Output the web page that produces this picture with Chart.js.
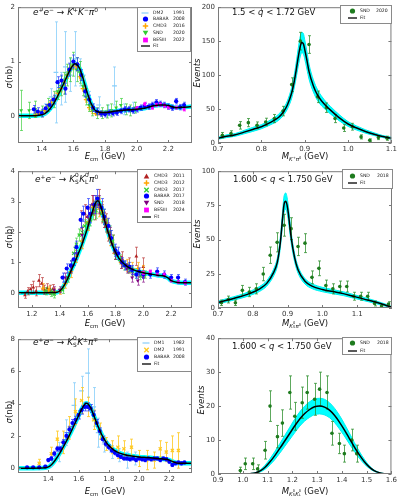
<!DOCTYPE html>
<html><head><meta charset="utf-8">
<script src="https://cdn.jsdelivr.net/npm/chart.js@4.4.0/dist/chart.umd.min.js"></script>
<style>
body{margin:0;background:#fff;width:399px;height:498px;position:relative;overflow:hidden;font-family:"DejaVu Sans",sans-serif;color:#111;}
canvas{position:absolute;}
.t{position:absolute;white-space:nowrap;font-size:8.5px;line-height:10px;}
.tt{font-size:9px;}
.c{transform:translate(-50%,-50%);}
.r{transform:translate(-50%,-50%) rotate(-90deg);}
sup,sub{font-size:65%;line-height:0;}
sup{vertical-align:0.55em;} sub{vertical-align:-0.3em;}
.sb{display:inline-block;position:relative;width:0.45em;height:1em;}
.sb .u{position:absolute;left:0;top:0;font-size:65%;line-height:1;}
.sb .d{position:absolute;left:0;top:1.15em;font-size:65%;line-height:1;}
.lg{position:absolute;border:1px solid #8a8a8a;background:#fff;box-sizing:border-box;}
.lt{position:absolute;font-size:4.6px;line-height:6px;white-space:nowrap;color:#222;}
</style></head><body>
<canvas id="c1" width="200" height="160" style="left:0;top:0"></canvas>
<canvas id="c2" width="199" height="160" style="left:200px;top:0"></canvas>
<canvas id="c3" width="200" height="160" style="left:0;top:164px"></canvas>
<canvas id="c4" width="199" height="160" style="left:200px;top:164px"></canvas>
<canvas id="c5" width="200" height="156" style="left:0;top:332px"></canvas>
<canvas id="c6" width="199" height="157" style="left:200px;top:331px"></canvas>

<div class="t tt" style="left:33px;top:7px"><i>e</i><sup>+</sup><i>e</i><sup>−</sup> → <i>K</i><sup>+</sup><i>K</i><sup>−</sup><i>π</i><sup>0</sup></div>
<div class="t" style="left:232px;top:7px">1.5 &lt; <i>q</i> &lt; 1.72 GeV</div>
<div class="t tt" style="left:35px;top:173px"><i>e</i><sup>+</sup><i>e</i><sup>−</sup> → <i>K</i><span class="sb"><span class="u">0</span><span class="d">S</span></span><i>K</i><span class="sb"><span class="u">0</span><span class="d">L</span></span><i>π</i><sup>0</sup></div>
<div class="t" style="left:233px;top:174px">1.600 &lt; <i>q</i> &lt; 1.750 GeV</div>
<div class="t tt" style="left:33px;top:336px"><i>e</i><sup>+</sup><i>e</i><sup>−</sup> → <i>K</i><span class="sb"><span class="u">0</span><span class="d">S</span></span><i>K</i><sup>±</sup><i>π</i><sup>∓</sup></div>
<div class="t" style="left:232px;top:341px">1.600 &lt; <i>q</i> &lt; 1.750 GeV</div>

<div class="t c" style="left:105px;top:156px"><i>E</i><sub>cm</sub> (GeV)</div>
<div class="t c" style="left:105px;top:323px"><i>E</i><sub>cm</sub> (GeV)</div>
<div class="t c" style="left:105px;top:491px"><i>E</i><sub>cm</sub> (GeV)</div>
<div class="t c" style="left:305px;top:156px"><i>M</i><sub><i>K</i><sup>+</sup><i>π</i><sup>0</sup></sub> (GeV)</div>
<div class="t c" style="left:305px;top:323px"><i>M</i><sub><i>K</i><span class="sb"><span class="u">0</span><span class="d">S</span></span><i>π</i><sup>0</sup></sub> (GeV)</div>
<div class="t c" style="left:305px;top:491px"><i>M</i><sub><i>K</i><span class="sb"><span class="u">0</span><span class="d">S</span></span><i>K</i><span class="sb"><span class="u">0</span><span class="d">L</span></span></sub> (GeV)</div>

<div class="t r" style="left:9px;top:77px"><i>σ</i>(nb)</div>
<div class="t r" style="left:9px;top:237px"><i>σ</i>(nb)</div>
<div class="t r" style="left:9px;top:412px"><i>σ</i>(nb)</div>
<div class="t r" style="left:197px;top:73px"><i>Events</i></div>
<div class="t r" style="left:197px;top:234px"><i>Events</i></div>
<div class="t r" style="left:201px;top:400px"><i>Events</i></div>

<div id="legends"></div>

<script>
// ---------------- DATA ----------------
// Panel 1: e+e- -> K+K-pi0
const p1_DM2_x   = [1.42,1.46,1.49,1.52,1.55,1.58,1.61,1.64,1.67,1.70,1.76,1.82,1.86,1.92,1.98];
const p1_DM2_y   = [0.12,0.35,0.8,0.5,0.9,0.75,1.05,0.8,0.55,0.3,0.2,0.1,0.55,0.12,0.15];
const p1_DM2_e   = [0.1,0.15,0.93,0.3,0.65,0.3,0.5,0.25,0.2,0.15,0.15,0.1,0.35,0.1,0.1];
const p1_BABAR_x = [1.35,1.375,1.40,1.425,1.45,1.475,1.50,1.525,1.55,1.575,1.60,1.625,1.65,1.675,1.70,1.725,1.75,1.775,1.80,1.825,1.85,1.875,1.90,1.925,1.95,1.975,2.00,2.025,2.05,2.075,2.10,2.125,2.15,2.175,2.20,2.225,2.25,2.275,2.30];
const p1_BABAR_y = [0.12,0.08,0.05,0.14,0.2,0.3,0.62,0.65,0.5,0.85,1.0,0.95,0.75,0.45,0.3,0.15,0.08,0.04,0.03,0.06,0.05,0.06,0.09,0.12,0.12,0.1,0.12,0.15,0.18,0.17,0.2,0.25,0.22,0.2,0.17,0.15,0.27,0.16,0.2];
const p1_BABAR_e = [0.07,0.07,0.07,0.07,0.08,0.08,0.1,0.1,0.1,0.12,0.12,0.12,0.1,0.1,0.08,0.07,0.06,0.05,0.05,0.05,0.05,0.05,0.05,0.05,0.05,0.05,0.05,0.05,0.05,0.05,0.05,0.05,0.05,0.05,0.05,0.05,0.05,0.05,0.05];
const p1_CMD3_x  = [1.36,1.38,1.40,1.42,1.44,1.46,1.48,1.50,1.52,1.54,1.56,1.58,1.60,1.62,1.64,1.66,1.68,1.70,1.72,1.74,1.76,1.78,1.80];
const p1_CMD3_y  = [0.02,0.04,0.06,0.1,0.18,0.25,0.32,0.42,0.5,0.62,0.75,0.88,0.92,0.9,0.72,0.5,0.3,0.15,0.08,0.04,0.05,0.06,0.05];
const p1_CMD3_e  = [0.03,0.03,0.03,0.04,0.04,0.05,0.05,0.05,0.06,0.06,0.06,0.07,0.07,0.07,0.06,0.05,0.05,0.04,0.04,0.03,0.03,0.03,0.03];
const p1_SND_x   = [1.27,1.32,1.36,1.40,1.44,1.48,1.50,1.52,1.54,1.56,1.58,1.60,1.62,1.64,1.66,1.68,1.70,1.72,1.75,1.78,1.81,1.84,1.87,1.90,1.93,1.96,1.99];
const p1_SND_y   = [0.1,0.1,0.12,0.08,0.2,0.3,0.45,0.55,0.6,0.75,0.85,0.95,0.85,0.8,0.55,0.35,0.2,0.1,0.05,0.05,0.08,0.1,0.15,0.2,0.12,0.1,0.15];
const p1_SND_e   = [0.37,0.15,0.15,0.1,0.12,0.15,0.15,0.18,0.2,0.2,0.22,0.22,0.22,0.2,0.18,0.15,0.12,0.1,0.1,0.1,0.12,0.12,0.12,0.12,0.1,0.1,0.1];
const p1_BES_x   = [2.0,2.05,2.1,2.125,2.15,2.175,2.2,2.25,2.3];
const p1_BES_y   = [0.14,0.22,0.15,0.2,0.21,0.19,0.16,0.15,0.12];
const p1_BES_e   = [0.03,0.03,0.03,0.03,0.03,0.03,0.03,0.03,0.03];
const p1_fit_x   = [1.25,1.30,1.35,1.38,1.40,1.42,1.45,1.48,1.50,1.52,1.54,1.56,1.58,1.60,1.61,1.62,1.64,1.66,1.685,1.71,1.735,1.76,1.78,1.80,1.85,1.90,1.95,2.00,2.05,2.10,2.15,2.18,2.20,2.25,2.30,2.35];
const p1_fit_y   = [0,0,0,0.01,0.02,0.04,0.12,0.25,0.36,0.48,0.6,0.73,0.85,0.94,0.96,0.95,0.87,0.7,0.45,0.24,0.11,0.07,0.06,0.06,0.08,0.1,0.11,0.12,0.14,0.18,0.2,0.2,0.19,0.15,0.16,0.17];
const p1_xticks = [1.4,1.6,1.8,2.0,2.2], p1_xlabels = ['1.4','1.6','1.8','2.0','2.2'];
const p1_yticks = [0,1,2], p1_ylabels = ['0','1','2'];

// Panel 2: M(K+pi0), SND 2020
const p2_SND_x = [0.71,0.73,0.75,0.77,0.79,0.81,0.83,0.85,0.87,0.89,0.91,0.93,0.95,0.97,0.99,1.01,1.03,1.05,1.07,1.09];
const p2_SND_y = [11.5,14,26,30,26,31,36,47,86,150,145,68,52,36,22,24,9,4,8,7];
const p2_SND_e = [4,4,5.5,6,5,5.5,6,7,10,13,13,8.5,7,6,5,5,3,2,3,3];
const p2_fit_x = [0.70,0.72,0.74,0.76,0.78,0.80,0.82,0.84,0.85,0.86,0.87,0.875,0.88,0.885,0.89,0.893,0.897,0.90,0.905,0.91,0.92,0.93,0.94,0.95,0.96,0.98,1.00,1.02,1.04,1.06,1.08,1.10];
const p2_fit_y = [7,10,12,16,20,24,30,38,45,56,74,88,106,126,143,148,146,138,122,105,84,70,61,54,48,37,28,22,17,13,9.5,7];
const p2_band_hi = [8.5,12,14,18.5,23,27,33.5,42.5,50,62,82,97,117,139,158,163,161,152,135,116,93,78,68,60,53.5,41.5,31.5,25,19.5,15,11,8.5];
const p2_band_lo = [5.5,8,10,13.5,17,21,26.5,33.5,40,50,66,79,95,113,128,133,131,124,109,94,75,62,54,48,42.5,32.5,24.5,19,14.5,11,8,5.5];
const p2_xticks = [0.7,0.8,0.9,1.0,1.1], p2_xlabels = ['0.7','0.8','0.9','1.0','1.1'];
const p2_yticks = [0,50,100,150,200], p2_ylabels = ['0','50','100','150','200'];

// Panel 3: e+e- -> KS KL pi0
const p3_CMD11_x = [1.15,1.17,1.19,1.21,1.23,1.25,1.27,1.29,1.31,1.33,1.35,1.55,1.58,1.60,1.63,1.65,1.68,1.70,1.73,1.75,1.78,1.85,1.90,1.95,2.00];
const p3_CMD11_y = [-0.08,0.05,0.12,0.18,0.05,0.4,0.3,0.1,0.15,0.1,0.12,2.4,2.6,2.5,2.9,2.7,3.1,2.6,2.3,2.0,1.6,1.1,0.9,1.2,0.85];
const p3_CMD11_e = [0.1,0.12,0.15,0.2,0.15,0.2,0.2,0.15,0.15,0.15,0.15,0.3,0.3,0.3,0.3,0.3,0.3,0.3,0.3,0.3,0.3,0.25,0.25,0.3,0.3];
const p3_CMD12_x = [1.28,1.32,1.36,1.40,1.44,1.48,1.52,1.56,1.60,1.62,1.64,1.66,1.68,1.70,1.72,1.74,1.76,1.80,1.84,1.88,1.92,1.96,2.00];
const p3_CMD12_y = [0.15,0.1,0.05,0.05,0.3,0.7,1.2,1.7,2.3,2.6,2.8,2.9,2.8,2.7,2.4,2.2,1.8,1.3,1.0,0.9,0.8,0.8,0.7];
const p3_CMD12_e = [0.15,0.12,0.1,0.1,0.15,0.2,0.2,0.25,0.25,0.25,0.25,0.3,0.3,0.3,0.25,0.25,0.25,0.2,0.2,0.2,0.2,0.2,0.2];
const p3_CMD17_x = [1.30,1.34,1.36,1.42,1.46,1.48,1.50,1.52,1.54,1.56,1.58,1.60,1.62,1.64,1.66,1.68,1.70,1.72,1.74,1.76,1.78,1.80,1.83,1.86,1.89,1.92,1.95,1.98,2.01];
const p3_CMD17_y = [0.05,0.0,-0.05,0.1,0.5,0.9,1.3,1.6,1.9,2.0,2.2,2.3,2.4,2.6,2.7,2.9,2.6,2.5,2.2,2.0,1.7,1.3,1.1,0.9,0.8,0.7,0.6,0.55,0.6];
const p3_CMD17_e = [0.12,0.12,0.12,0.12,0.15,0.15,0.2,0.2,0.2,0.2,0.2,0.2,0.2,0.2,0.25,0.25,0.25,0.25,0.2,0.2,0.2,0.2,0.15,0.15,0.15,0.15,0.12,0.12,0.12];
const p3_BABAR_x = [1.42,1.45,1.48,1.50,1.52,1.55,1.57,1.60,1.62,1.65,1.67,1.70,1.72,1.75,1.77,1.80,1.82,1.85,1.87,1.90,1.92,1.95,1.97,2.00,2.05,2.10,2.15,2.20,2.25,2.30];
const p3_BABAR_y = [0.5,0.8,0.9,1.1,1.5,2.4,2.6,2.8,2.6,2.9,3.1,2.8,2.5,2.2,1.8,1.4,1.3,1.0,0.9,0.85,0.75,0.6,0.7,0.6,0.6,0.7,0.6,0.5,0.5,0.35];
const p3_BABAR_e = [0.15,0.15,0.15,0.2,0.2,0.25,0.25,0.3,0.3,0.3,0.3,0.3,0.25,0.25,0.25,0.2,0.2,0.15,0.15,0.15,0.15,0.12,0.12,0.12,0.12,0.12,0.12,0.1,0.1,0.1];
const p3_SND_x   = [1.36,1.40,1.44,1.48,1.52,1.56,1.60,1.64,1.68,1.72,1.76,1.80,1.84,1.88,1.92,1.96,2.00];
const p3_SND_y   = [0.1,0.1,0.5,0.85,1.3,1.9,2.5,2.9,2.9,2.4,1.9,1.3,1.0,0.8,0.5,0.4,0.5];
const p3_SND_e   = [0.1,0.1,0.15,0.2,0.2,0.25,0.25,0.3,0.3,0.25,0.25,0.2,0.2,0.15,0.15,0.15,0.15];
const p3_BES_x   = [2.00,2.05,2.10,2.15,2.20,2.25,2.30];
const p3_BES_y   = [0.65,0.7,0.6,0.6,0.4,0.35,0.33];
const p3_BES_e   = [0.05,0.05,0.05,0.05,0.05,0.05,0.05];
const p3_fit_x = [1.10,1.20,1.30,1.35,1.38,1.40,1.42,1.45,1.48,1.50,1.53,1.56,1.59,1.62,1.64,1.66,1.675,1.69,1.71,1.73,1.75,1.78,1.81,1.84,1.87,1.90,1.95,2.00,2.05,2.10,2.15,2.18,2.20,2.25,2.30,2.35];
const p3_fit_y = [0,0,0,0.01,0.02,0.06,0.16,0.4,0.72,0.92,1.25,1.6,2.0,2.45,2.75,2.98,3.03,2.9,2.6,2.25,1.95,1.55,1.25,1.05,0.92,0.82,0.72,0.66,0.62,0.58,0.55,0.48,0.4,0.34,0.33,0.33];
const p3_xticks = [1.2,1.4,1.6,1.8,2.0,2.2], p3_xlabels = ['1.2','1.4','1.6','1.8','2.0','2.2'];
const p3_yticks = [0,1,2,3,4], p3_ylabels = ['0','1','2','3','4'];

// Panel 4: M(KS pi0), SND 2018
const p4_SND_x = [0.71,0.73,0.75,0.77,0.79,0.81,0.83,0.85,0.87,0.89,0.91,0.93,0.95,0.97,0.99,1.01,1.03,1.05,1.07,1.09,1.11,1.13,1.15,1.17,1.19];
const p4_SND_y = [3.8,6.2,3.8,12.9,11.7,14,24.8,38.6,48,60.5,58,45,47.4,22.4,29,16.4,14,15.7,15.7,8.6,8.6,8.6,3.3,1.4,2.9];
const p4_SND_e = [2,2.5,2,3.6,3.4,3.7,4.9,6,7,8,8,6.7,6.9,4.7,5.4,4,3.7,4,4,2.9,2.9,2.9,1.8,1.2,1.7];
const p4_fit_x = [0.70,0.73,0.76,0.79,0.82,0.84,0.86,0.87,0.875,0.88,0.885,0.89,0.895,0.90,0.905,0.91,0.92,0.93,0.95,0.97,1.00,1.03,1.06,1.09,1.12,1.15,1.18,1.20];
const p4_fit_y = [4,6,8,10.5,14,18,26,33,40,50,64,76,78,73,63,52,37,28,19.5,16,13.5,12,10.5,8.5,6.5,4.5,2.2,0.5];
const p4_band_hi = [5,7.2,9.3,12,15.8,20,28.5,36,43.5,54,69,82,84,78.5,68,56,40,30.5,21.5,17.8,15.1,13.5,11.9,9.8,7.7,5.5,3,1];
const p4_band_lo = [3,4.8,6.7,9,12.2,16,23.5,30,36.5,46,59,70,72,67.5,58,48,34,25.5,17.5,14.2,11.9,10.5,9.1,7.2,5.3,3.5,1.4,0.1];
const p4_xticks = [0.7,0.8,0.9,1.0,1.1], p4_xlabels = ['0.7','0.8','0.9','1.0','1.1'];
const p4_yticks = [0,25,50,75,100], p4_ylabels = ['0','25','50','75','100'];

// Panel 5: e+e- -> KS K+- pi-+
const p5_DM1_x = [1.34,1.42,1.47,1.52,1.57,1.62,1.66,1.70,1.73,1.77,1.82,1.87,1.92,1.97];
const p5_DM1_y = [0.1,0.5,1.0,2.2,3.9,4.8,5.9,3.8,2.2,1.5,1.0,0.8,0.5,0.6];
const p5_DM1_e = [0.2,0.4,0.6,0.8,1.4,0.9,1.5,1.2,0.9,0.5,0.4,0.4,0.5,0.4];
const p5_DM2_x = [1.34,1.42,1.46,1.50,1.54,1.58,1.62,1.66,1.70,1.74,1.78,1.82,1.86,1.90,1.95,2.00,2.05,2.10,2.14,2.18,2.22,2.26];
const p5_DM2_y = [0.3,0.9,1.8,1.6,2.5,3.5,4.2,3.8,3.0,2.3,1.5,1.3,1.3,1.2,1.3,0.6,0.5,0.5,1.2,1.0,1.1,1.1];
const p5_DM2_e = [0.25,0.4,0.5,0.7,0.7,0.8,0.8,0.6,0.6,0.5,0.4,0.4,0.7,0.5,0.5,0.5,0.6,0.5,0.5,0.6,0.9,1.1];
const p5_BABAR_x = [1.26,1.30,1.34,1.38,1.40,1.42,1.44,1.46,1.48,1.50,1.52,1.54,1.56,1.58,1.60,1.62,1.64,1.66,1.68,1.70,1.72,1.74,1.76,1.78,1.80,1.82,1.84,1.86,1.88,1.90,1.92,1.94,1.96,1.98,2.00,2.02,2.04,2.06,2.08,2.10,2.12,2.14,2.16,2.18,2.20,2.22,2.24,2.26,2.28,2.30];
const p5_BABAR_y = [0.05,0.05,0.05,0.1,0.5,0.6,0.9,1.2,1.2,1.6,2.0,2.4,2.8,3.0,3.3,3.6,3.8,3.8,3.7,3.3,2.8,2.3,1.8,1.5,1.3,1.1,0.95,0.8,0.7,0.6,0.6,0.55,0.6,0.5,0.6,0.55,0.5,0.6,0.55,0.6,0.6,0.5,0.6,0.55,0.4,0.2,0.3,0.35,0.3,0.35];
const p5_BABAR_e = [0.05,0.05,0.05,0.08,0.1,0.12,0.15,0.15,0.15,0.18,0.2,0.2,0.22,0.22,0.25,0.25,0.25,0.25,0.25,0.25,0.22,0.2,0.18,0.15,0.15,0.12,0.12,0.1,0.1,0.1,0.1,0.1,0.1,0.1,0.1,0.1,0.1,0.1,0.1,0.1,0.1,0.1,0.1,0.1,0.1,0.1,0.1,0.1,0.1,0.1];
const p5_fit_x = [1.20,1.30,1.36,1.39,1.41,1.43,1.45,1.48,1.51,1.54,1.57,1.60,1.62,1.64,1.65,1.66,1.68,1.70,1.72,1.74,1.76,1.78,1.80,1.83,1.86,1.90,1.95,2.00,2.05,2.10,2.15,2.18,2.20,2.23,2.26,2.30,2.35];
const p5_fit_y = [0,0,0.01,0.04,0.12,0.3,0.55,1.0,1.5,2.05,2.65,3.25,3.65,3.95,4.02,4.0,3.75,3.3,2.8,2.35,1.95,1.65,1.4,1.15,0.98,0.85,0.75,0.7,0.66,0.62,0.58,0.55,0.5,0.38,0.3,0.3,0.3];
const p5_xticks = [1.4,1.6,1.8,2.0,2.2], p5_xlabels = ['1.4','1.6','1.8','2.0','2.2'];
const p5_yticks = [0,2,4,6,8], p5_ylabels = ['0','2','4','6','8'];

// Panel 6: M(KS KL), SND 2018
const p6_SND_x = [0.99,1.01,1.04,1.06,1.09,1.11,1.14,1.16,1.19,1.21,1.24,1.26,1.29,1.31,1.34,1.36,1.39,1.41,1.44,1.46];
const p6_SND_y = [1,3,3,1.5,7,20,11,15,24,17,21,24,22,25,24,12,9,6,10,6];
const p6_SND_e = [1,1.7,1.7,1.2,2.6,4.5,3.3,3.9,4.9,4.1,4.6,4.9,4.7,5,4.9,3.5,3,2.5,3.2,2.5];
const p6_fit_x = [0.90,0.95,1.00,1.03,1.05,1.07,1.09,1.11,1.13,1.15,1.17,1.19,1.21,1.23,1.25,1.27,1.29,1.31,1.33,1.35,1.37,1.39,1.41,1.43,1.45,1.47,1.49,1.51,1.53,1.55,1.57,1.60];
const p6_fit_y = [0,0,0,0.1,0.3,0.9,2,3.6,5.5,7.6,9.8,12,14.2,16.2,17.8,19,19.8,20,19.7,18.8,17.3,15.3,13,10.5,8,5.7,3.7,2.1,1,0.4,0.1,0];
const p6_band_hi = [0,0,0,0.15,0.4,1.2,2.6,4.5,6.7,9,11.4,13.8,16.2,18.3,20,21.3,22.1,22.3,22,21,19.4,17.3,14.8,12.1,9.3,6.7,4.4,2.5,1.2,0.5,0.15,0];
const p6_band_lo = [0,0,0,0.05,0.2,0.6,1.4,2.7,4.3,6.2,8.2,10.2,12.2,14.1,15.6,16.7,17.5,17.7,17.4,16.6,15.2,13.3,11.2,8.9,6.7,4.7,3,1.7,0.8,0.3,0.05,0];
const p6_xticks = [0.9,1.0,1.1,1.2,1.3,1.4,1.5,1.6], p6_xlabels = ['0.9','1.0','1.1','1.2','1.3','1.4','1.5','1.6'];
const p6_yticks = [0,10,20,30,40], p6_ylabels = ['0','10','20','30','40'];

// ---------------- STYLES ----------------
const S = {
  dm:    {pointStyle:'line', pointRadius:2.4, pointBorderColor:'#87CEFA', pointBackgroundColor:'#87CEFA', pointBorderWidth:1.2, errColor:'rgba(135,206,250,0.8)'},
  babar: {pointStyle:'circle', pointRadius:2.1, pointBorderColor:'#0000FF', pointBackgroundColor:'#0000FF', pointBorderWidth:0, errColor:'rgba(40,60,255,0.7)'},
  cmdOr: {pointStyle:'cross', pointRadius:2.2, pointBorderColor:'#FFA500', pointBackgroundColor:'#FFA500', pointBorderWidth:1.2, errColor:'rgba(255,165,0,0.65)'},
  sndG:  {pointStyle:'triangle', pointRotation:180, pointRadius:2.2, pointBorderColor:'#32CD32', pointBackgroundColor:'#32CD32', pointBorderWidth:0, errColor:'rgba(50,205,50,0.65)'},
  bes:   {pointStyle:'rect', pointRadius:2, pointBorderColor:'#FF00FF', pointBackgroundColor:'#FF00FF', pointBorderWidth:0, errColor:'rgba(255,0,255,0.7)'},
  cmdR:  {pointStyle:'triangle', pointRadius:2.2, pointBorderColor:'#B22222', pointBackgroundColor:'#B22222', pointBorderWidth:0, errColor:'rgba(178,34,34,0.6)'},
  cmdGx: {pointStyle:'crossRot', pointRadius:2.2, pointBorderColor:'#32CD32', pointBackgroundColor:'#32CD32', pointBorderWidth:1.2, errColor:'rgba(50,205,50,0.6)'},
  sndP:  {pointStyle:'triangle', pointRotation:180, pointRadius:2.2, pointBorderColor:'#800080', pointBackgroundColor:'#800080', pointBorderWidth:0, errColor:'rgba(128,0,128,0.6)'},
  dm2Y:  {pointStyle:'crossRot', pointRadius:2.2, pointBorderColor:'#FFC81E', pointBackgroundColor:'#FFC81E', pointBorderWidth:1.2, errColor:'rgba(255,200,30,0.8)'},
  sndR:  {pointStyle:'circle', pointRadius:1.8, pointBorderColor:'#1E7B1E', pointBackgroundColor:'#1E7B1E', pointBorderWidth:0, errColor:'rgba(40,140,40,0.75)'}
};

// ---------------- HELPERS ----------------
const pts = (xs, ys) => xs.map((x, i) => ({x: x, y: ys[i]}));
function pointsDS(label, xs, ys, es, st, order) {
  return Object.assign({type:'scatter', label: label, data: pts(xs, ys), errs: es, showLine:false, order: order}, st);
}
function fitDS(xs, ys) {
  return {type:'line', label:'Fit', data: pts(xs, ys), borderColor:'#000', borderWidth:1.5, pointRadius:0, fill:false, cubicInterpolationMode:'monotone', order:0};
}
function thickBandDS(xs, ys) {
  return {type:'line', label:'band', data: pts(xs, ys), borderColor:'#00FFFF', borderWidth:4.5, pointRadius:0, fill:false, cubicInterpolationMode:'monotone', order:20};
}
function bandDS(xs, hi, lo) {
  return [
    {type:'line', label:'bandHi', data: pts(xs, hi), borderColor:'#00F0F0', borderWidth:1, pointRadius:0, fill:false, cubicInterpolationMode:'monotone', order:20},
    {type:'line', label:'bandLo', data: pts(xs, lo), borderColor:'#00F0F0', borderWidth:1, pointRadius:0, fill:0, backgroundColor:'#00FFFF', cubicInterpolationMode:'monotone', order:21}
  ];
}

const errPlugin = {
  id:'errbars',
  beforeDatasetDraw(chart, args) {
    const ds = chart.data.datasets[args.index];
    if (!ds.errs) return;
    const xs = chart.scales.x, ys = chart.scales.y, ctx = chart.ctx, a = chart.chartArea;
    ctx.save();
    ctx.beginPath(); ctx.rect(a.left, a.top, a.right - a.left, a.bottom - a.top); ctx.clip();
    ctx.strokeStyle = ds.errColor; ctx.lineWidth = 1;
    ctx.beginPath();
    ds.data.forEach((p, i) => {
      const e = ds.errs[i] || 0;
      const px = Math.round(xs.getPixelForValue(p.x)) + 0.5;
      const y1 = ys.getPixelForValue(p.y - e), y2 = ys.getPixelForValue(p.y + e);
      ctx.moveTo(px, y1); ctx.lineTo(px, y2);
      ctx.moveTo(px - 1.5, y1); ctx.lineTo(px + 1.5, y1);
      ctx.moveTo(px - 1.5, y2); ctx.lineTo(px + 1.5, y2);
    });
    ctx.stroke();
    ctx.restore();
  }
};
const framePlugin = {
  id:'frame',
  afterDraw(chart) {
    const {ctx, chartArea: a, scales} = chart;
    ctx.save();
    ctx.strokeStyle = '#7a7a7a'; ctx.lineWidth = 1;
    ctx.strokeRect(a.left + 0.5, a.top + 0.5, a.right - a.left - 1, a.bottom - a.top - 1);
    ctx.beginPath();
    scales.x.ticks.forEach(t => {
      const px = Math.round(scales.x.getPixelForValue(t.value)) + 0.5;
      ctx.moveTo(px, a.bottom); ctx.lineTo(px, a.bottom - 3);
      ctx.moveTo(px, a.top); ctx.lineTo(px, a.top + 3);
    });
    scales.y.ticks.forEach(t => {
      const py = Math.round(scales.y.getPixelForValue(t.value)) + 0.5;
      ctx.moveTo(a.left, py); ctx.lineTo(a.left + 3, py);
      ctx.moveTo(a.right, py); ctx.lineTo(a.right - 3, py);
    });
    ctx.stroke();
    ctx.restore();
  }
};

function axis(min, max, ticks, labels, isX, size) {
  return {
    type:'linear', position: isX ? 'bottom' : 'left', min: min, max: max,
    grid:{display:false, drawTicks:false}, border:{display:false},
    afterBuildTicks: s => { s.ticks = ticks.map(v => ({value: v})); },
    afterFit: s => { if (isX) s.height = size; else s.width = size; },
    ticks:{autoSkip:false, maxRotation:0, minRotation:0, padding: isX ? 2 : 3, color:'#333',
      font:{family:'DejaVu Sans', size:7}, callback: (v, i) => labels[i]}
  };
}

function makeChart(id, datasets, xa, ya, pad) {
  new Chart(document.getElementById(id), {
    type:'scatter',
    data:{datasets: datasets},
    options:{
      responsive:false, animation:false, events:[],
      layout:{padding: pad},
      plugins:{legend:{display:false}, tooltip:{enabled:false}},
      scales:{x: xa, y: ya}
    },
    plugins:[errPlugin, framePlugin]
  });
}

// ---------------- CHARTS ----------------
makeChart('c1', [
  thickBandDS(p1_fit_x, p1_fit_y),
  pointsDS('DM2 1991', p1_DM2_x, p1_DM2_y, p1_DM2_e, S.dm, 6),
  pointsDS('CMD3 2016', p1_CMD3_x, p1_CMD3_y, p1_CMD3_e, S.cmdOr, 5),
  pointsDS('SND 2020', p1_SND_x, p1_SND_y, p1_SND_e, S.sndG, 4),
  pointsDS('BABAR 2008', p1_BABAR_x, p1_BABAR_y, p1_BABAR_e, S.babar, 3),
  pointsDS('BESIII 2022', p1_BES_x, p1_BES_y, p1_BES_e, S.bes, 2),
  fitDS(p1_fit_x, p1_fit_y)
], axis(1.25, 2.35, p1_xticks, p1_xlabels, true, 14), axis(-0.5, 2, p1_yticks, p1_ylabels, false, 18), {left:0, right:8, top:4, bottom:3});

makeChart('c2', [
  ...bandDS(p2_fit_x, p2_band_hi, p2_band_lo),
  pointsDS('SND 2020', p2_SND_x, p2_SND_y, p2_SND_e, S.sndR, 3),
  fitDS(p2_fit_x, p2_fit_y)
], axis(0.7, 1.1, p2_xticks, p2_xlabels, true, 14), axis(0, 200, p2_yticks, p2_ylabels, false, 18), {left:0, right:7, top:4, bottom:3});

makeChart('c3', [
  thickBandDS(p3_fit_x, p3_fit_y),
  pointsDS('CMD3 2011', p3_CMD11_x, p3_CMD11_y, p3_CMD11_e, S.cmdR, 7),
  pointsDS('CMD3 2012', p3_CMD12_x, p3_CMD12_y, p3_CMD12_e, S.cmdOr, 6),
  pointsDS('CMD3 2017', p3_CMD17_x, p3_CMD17_y, p3_CMD17_e, S.cmdGx, 5),
  pointsDS('SND 2018', p3_SND_x, p3_SND_y, p3_SND_e, S.sndP, 4),
  pointsDS('BABAR 2017', p3_BABAR_x, p3_BABAR_y, p3_BABAR_e, S.babar, 3),
  pointsDS('BESIII 2024', p3_BES_x, p3_BES_y, p3_BES_e, S.bes, 2),
  fitDS(p3_fit_x, p3_fit_y)
], axis(1.1, 2.35, p3_xticks, p3_xlabels, true, 14), axis(-0.5, 4, p3_yticks, p3_ylabels, false, 18), {left:0, right:8, top:4, bottom:2});

makeChart('c4', [
  ...bandDS(p4_fit_x, p4_band_hi, p4_band_lo),
  pointsDS('SND 2018', p4_SND_x, p4_SND_y, p4_SND_e, S.sndR, 3),
  fitDS(p4_fit_x, p4_fit_y)
], axis(0.7, 1.2, p4_xticks, p4_xlabels, true, 14), axis(0, 100, p4_yticks, p4_ylabels, false, 18), {left:0, right:7, top:4, bottom:2});

makeChart('c5', [
  thickBandDS(p5_fit_x, p5_fit_y),
  pointsDS('DM1 1982', p5_DM1_x, p5_DM1_y, p5_DM1_e, S.dm, 5),
  pointsDS('DM2 1991', p5_DM2_x, p5_DM2_y, p5_DM2_e, S.dm2Y, 4),
  pointsDS('BABAR 2008', p5_BABAR_x, p5_BABAR_y, p5_BABAR_e, S.babar, 3),
  fitDS(p5_fit_x, p5_fit_y)
], axis(1.2, 2.35, p5_xticks, p5_xlabels, true, 14), axis(-0.3, 8, p5_yticks, p5_ylabels, false, 18), {left:0, right:8, top:4, bottom:1});

makeChart('c6', [
  ...bandDS(p6_fit_x, p6_band_hi, p6_band_lo),
  pointsDS('SND 2018', p6_SND_x, p6_SND_y, p6_SND_e, S.sndR, 3),
  fitDS(p6_fit_x, p6_fit_y)
], axis(0.9, 1.6, p6_xticks, p6_xlabels, true, 14), axis(0, 40, p6_yticks, p6_ylabels, false, 18), {left:0, right:7, top:4, bottom:0});

// ---------------- LEGENDS ----------------
function markerSVG(kind, color) {
  const s = {
    line: `<line x1="0.5" y1="3" x2="7.5" y2="3" stroke="${color}" stroke-width="1.2"/>`,
    fit: `<line x1="0" y1="3" x2="9" y2="3" stroke="#000" stroke-width="1.3"/>`,
    circle: `<circle cx="4.5" cy="3" r="2.6" fill="${color}"/>`,
    cross: `<path d="M4.5 0.3V5.7M1.8 3H7.2" stroke="${color}" stroke-width="1.5"/>`,
    crossRot: `<path d="M2.3 0.8L6.7 5.2M6.7 0.8L2.3 5.2" stroke="${color}" stroke-width="1.3"/>`,
    triDown: `<path d="M1.7 0.7H7.3L4.5 5.6Z" fill="${color}"/>`,
    triUp: `<path d="M1.7 5.4H7.3L4.5 0.5Z" fill="${color}"/>`,
    rect: `<rect x="2.1" y="0.6" width="4.8" height="4.8" fill="${color}"/>`
  }[kind];
  return `<svg width="9" height="6" viewBox="0 0 9 6">${s}</svg>`;
}
const legends = [
  {box:[137,7,54,45], y0:12.7, dy:6.7, mx:145, nx:153, yx:173, rows:[
    ['line','#87CEFA','DM2','1991'],['circle','#0000FF','BABAR','2008'],['cross','#FFA500','CMD3','2016'],
    ['triDown','#32CD32','SND','2020'],['rect','#FF00FF','BESIII','2022'],['fit','#000','Fit','']]},
  {box:[340,5,52,19], y0:11, dy:7.3, mx:352.7, nx:360, yx:376, rows:[
    ['circle','#1E7B1E','SND','2020'],['fit','#000','Fit','']]},
  {box:[137,169,55,54], y0:176, dy:6.8, mx:146.5, nx:154, yx:173, rows:[
    ['triUp','#B22222','CMD3','2011'],['cross','#FFA500','CMD3','2012'],['crossRot','#32CD32','CMD3','2017'],
    ['circle','#0000FF','BABAR','2017'],['triDown','#800080','SND','2018'],['rect','#FF00FF','BESIII','2024'],['fit','#000','Fit','']]},
  {box:[342,169,51,20], y0:175.7, dy:7.5, mx:352.7, nx:360, yx:377, rows:[
    ['circle','#1E7B1E','SND','2018'],['fit','#000','Fit','']]},
  {box:[137,337,55,35], y0:342.7, dy:7.1, mx:146.5, nx:154, yx:173, rows:[
    ['line','#87CEFA','DM1','1982'],['crossRot','#FFC81E','DM2','1991'],['circle','#0000FF','BABAR','2008'],['fit','#000','Fit','']]},
  {box:[342,337,50,18], y0:343.3, dy:7.3, mx:352.7, nx:360, yx:377, rows:[
    ['circle','#1E7B1E','SND','2018'],['fit','#000','Fit','']]}
];
let html = '';
legends.forEach(L => {
  const [l, t, w, h] = L.box;
  html += `<div class="lg" style="left:${l}px;top:${t}px;width:${w}px;height:${h}px"></div>`;
  L.rows.forEach((r, i) => {
    const cy = L.y0 + i * L.dy;
    html += `<div style="position:absolute;left:${L.mx - 4.5}px;top:${cy - 3}px;width:9px;height:6px;line-height:0">${markerSVG(r[0], r[1])}</div>`;
    html += `<div class="lt" style="left:${L.nx}px;top:${cy - 3}px">${r[2]}</div>`;
    if (r[3]) html += `<div class="lt" style="left:${L.yx}px;top:${cy - 3}px">${r[3]}</div>`;
  });
});
document.getElementById('legends').innerHTML = html;
</script>
</body></html>
